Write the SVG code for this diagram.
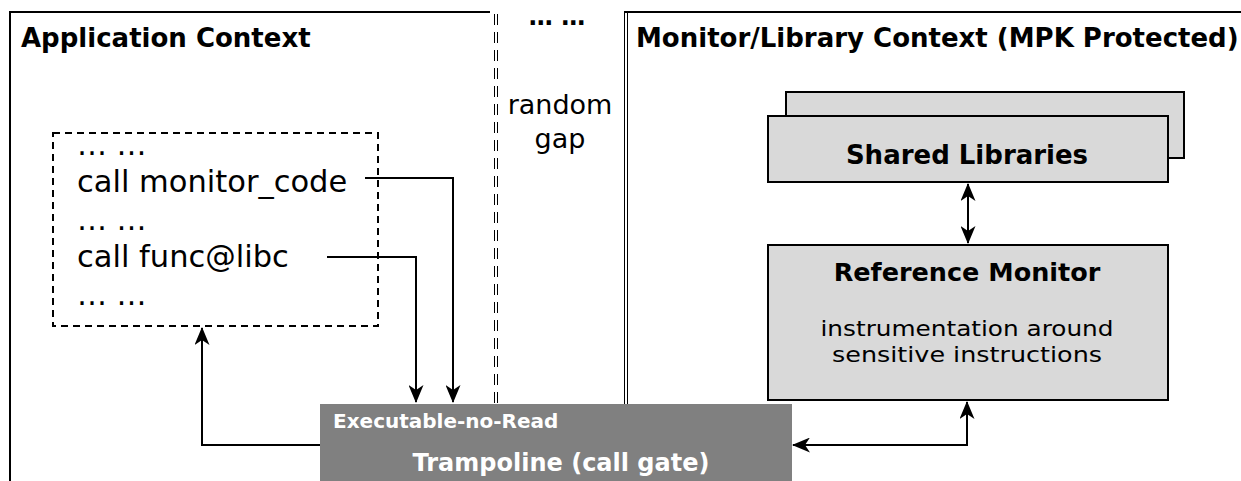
<svg xmlns="http://www.w3.org/2000/svg" width="1241" height="481" viewBox="0 0 1241 481">
  <style>
    .t { font-family: "DejaVu Sans", "Noto Sans", sans-serif; fill: #000; }
    .b { font-weight: bold; }
    .frame { fill: none; stroke: #000; stroke-width: 2; }
    .thin { fill: none; stroke: #000; stroke-width: 1; }
    .gapline { fill: none; stroke: #000; stroke-width: 1; stroke-dasharray: 11 7; }
    .box { fill: #d9d9d9; stroke: #000; stroke-width: 2; }
    .conn { fill: none; stroke: #000; stroke-width: 2; }
    .w { fill: #fff; }
  </style>
  <defs>
    <marker id="arrow" viewBox="0 0 18 15" refX="17" refY="7.5" markerWidth="18" markerHeight="15" markerUnits="userSpaceOnUse" orient="auto-start-reverse">
      <path d="M0,0 L18,7.5 L0,15 L5,7.5 Z" fill="#000"/>
    </marker>
  </defs>
  <rect x="0" y="0" width="1241" height="481" fill="#fff"/>

  <!-- application context frame -->
  <g id="app-context">
    <path class="frame" d="M10,481 V12 H490"/>
    <text class="t b" x="21" y="47" font-size="26">Application Context</text>
  </g>

  <!-- random gap between the two contexts -->
  <g id="random-gap">
    <line class="gapline" x1="494.5" y1="14" x2="494.5" y2="481"/>
    <line class="gapline" x1="497.5" y1="14" x2="497.5" y2="481"/>
    <text class="t b" x="557" y="25" font-size="24" text-anchor="middle">… …</text>
    <text class="t" x="560" y="114" font-size="27" text-anchor="middle">random</text>
    <text class="t" x="560" y="148" font-size="27" text-anchor="middle">gap</text>
  </g>

  <!-- monitor / library context frame -->
  <g id="monitor-context">
    <line class="thin" x1="624.5" y1="12" x2="624.5" y2="481"/>
    <line class="thin" x1="627.5" y1="12" x2="627.5" y2="481"/>
    <line class="frame" x1="624" y1="12" x2="1241" y2="12"/>
    <text class="t b" x="636" y="47" font-size="26">Monitor/Library Context (MPK Protected)</text>
  </g>

  <!-- application code listing -->
  <g id="app-code">
    <rect x="53" y="133" width="325" height="193" fill="none" stroke="#000" stroke-width="2" stroke-dasharray="7 5"/>
    <text class="t" x="77" y="155" font-size="30">… …</text>
    <text class="t" x="77" y="192" font-size="30.5">call monitor_code</text>
    <text class="t" x="77" y="230" font-size="30">… …</text>
    <text class="t" x="77" y="267" font-size="30.5">call func@libc</text>
    <text class="t" x="77" y="305" font-size="30">… …</text>
  </g>

  <!-- shared libraries (stacked) -->
  <g id="shared-libraries">
    <rect class="box" x="786" y="92" width="398" height="66"/>
    <rect class="box" x="768" y="116" width="400" height="66"/>
    <text class="t b" x="967" y="164" font-size="26" text-anchor="middle">Shared Libraries</text>
  </g>

  <!-- reference monitor -->
  <g id="reference-monitor">
    <rect class="box" x="768" y="245" width="400" height="155"/>
    <text class="t b" x="967" y="281" font-size="25.5" text-anchor="middle">Reference Monitor</text>
    <text class="t" x="967" y="336" font-size="22" text-anchor="middle" textLength="293" lengthAdjust="spacingAndGlyphs">instrumentation around</text>
    <text class="t" x="967" y="362" font-size="22" text-anchor="middle" textLength="270" lengthAdjust="spacingAndGlyphs">sensitive instructions</text>
  </g>

  <!-- trampoline call gate -->
  <g id="trampoline">
    <rect x="320" y="404" width="472" height="77" fill="#808080"/>
    <text class="t b w" x="333" y="428" font-size="20">Executable-no-Read</text>
    <text class="t b w" x="561" y="471" font-size="24" text-anchor="middle">Trampoline (call gate)</text>
  </g>

  <!-- connectors -->
  <g id="connectors">
    <path class="conn" d="M365,178 H453 V402" marker-end="url(#arrow)"/>
    <path class="conn" d="M327,257 H416 V402" marker-end="url(#arrow)"/>
    <path class="conn" d="M320,445 H202 V328" marker-end="url(#arrow)"/>
    <path class="conn" d="M793,445 H967 V402" marker-start="url(#arrow)" marker-end="url(#arrow)"/>
    <path class="conn" d="M968,184 V243" marker-start="url(#arrow)" marker-end="url(#arrow)"/>
  </g>
</svg>
